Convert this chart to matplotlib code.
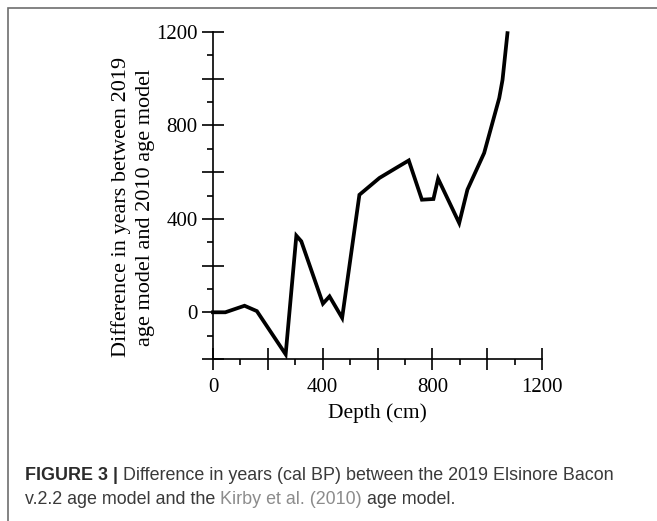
import matplotlib
matplotlib.use("Agg")
import matplotlib.pyplot as plt
from matplotlib.patches import Rectangle
from matplotlib.ticker import MultipleLocator

# depth (cm) and difference in years
depth = [0, 45, 115, 160, 265, 304, 322, 401, 425, 471, 534, 607, 668, 714,
         762, 804, 821, 898, 928, 989, 1044, 1056, 1074]
diff_years = [0, 0, 28, 5, -180, 328, 304, 37, 68, -24, 503, 575, 618, 650,
              482, 485, 572, 382, 525, 682, 917, 995, 1195]

x_ticks = [0, 200, 400, 600, 800, 1000, 1200]
x_labels = ["0", "", "400", "", "800", "", "1200"]
y_ticks = [-200, 0, 200, 400, 600, 800, 1000, 1200]
y_labels = ["", "0", "", "400", "", "800", "", "1200"]

W, H = 657, 521
fig = plt.figure(figsize=(W / 100, H / 100), dpi=100)

# frame around the figure panel (right and bottom sides fall outside the image)
top = 1 - 7.5 / H
fig.patches.append(Rectangle((8 / W, -0.2), 1.2, top + 0.2,
                             transform=fig.transFigure, fill=False,
                             edgecolor="#6e6e6e", linewidth=1.2))

ax = fig.add_axes([213 / W, 1 - 359 / H, 329 / W, 327 / H])
ax.plot(depth, diff_years, color="black", linewidth=2.7, clip_on=False,
        solid_joinstyle="miter")

ax.set_xlim(0, 1200)
ax.set_ylim(-200, 1200)
for s in ["top", "right"]:
    ax.spines[s].set_visible(False)
for s in ["left", "bottom"]:
    ax.spines[s].set_linewidth(1.2)

serif = "Liberation Serif"
ax.set_xticks(x_ticks)
ax.set_xticklabels(x_labels)
ax.set_yticks(y_ticks)
ax.set_yticklabels(y_labels)
ax.xaxis.set_minor_locator(MultipleLocator(100))
ax.yaxis.set_minor_locator(MultipleLocator(100))
ax.tick_params(which="major", direction="inout", length=16, width=1.2,
               labelsize=15, pad=3)
ax.tick_params(axis="x", which="major", pad=5.5)
ax.tick_params(which="minor", direction="out", length=4.5, width=1.2)
for lab in ax.get_xticklabels() + ax.get_yticklabels():
    lab.set_family(serif)

ax.set_xlabel("Depth (cm)", family=serif, fontsize=15.5, labelpad=5)
ax.text(-0.243, 0.465, "Difference in years between 2019\nage model and 2010 age model",
        transform=ax.transAxes, rotation=90, ha="center", va="center",
        family=serif, fontsize=16, multialignment="center", linespacing=1.3)

# caption with mixed styles
sans = "Liberation Sans"
renderer = fig.canvas.get_renderer()


def caption_line(y_px, pieces):
    x = 25 / W
    for txt, col, wt in pieces:
        t = fig.text(x, 1 - y_px / H, txt, color=col, fontweight=wt,
                     family=sans, fontsize=12.9, ha="left", va="baseline")
        bb = t.get_window_extent(renderer)
        x = bb.x1 / W


caption_line(480, [("FIGURE 3 |", "#2b2b2b", "bold"),
                   (" Difference in years (cal BP) between the 2019 Elsinore Bacon",
                    "#3a3a3a", "normal")])
caption_line(504, [("v.2.2 age model and the ", "#3a3a3a", "normal"),
                   ("Kirby et al. (2010)", "#8c8c8c", "normal"),
                   (" age model.", "#3a3a3a", "normal")])

fig.savefig("out.png", dpi=100)
